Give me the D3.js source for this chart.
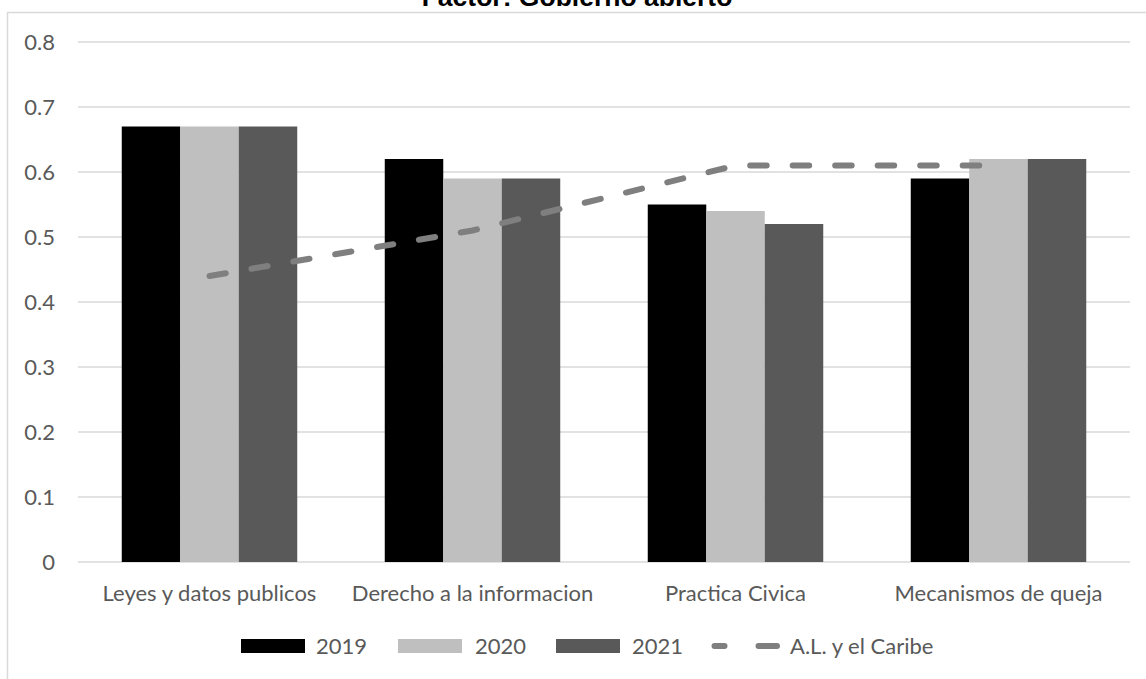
<!DOCTYPE html>
<html>
<head>
<meta charset="utf-8">
<script src="https://cdn.jsdelivr.net/npm/d3@7"></script>
<style>
  html, body { margin: 0; padding: 0; background: #ffffff; }
  svg { display: block; }
</style>
</head>
<body>
<svg id="chart" width="1146" height="679"></svg>
<script>
// Factor: Gobierno abierto — scores by sub-factor and year, with the regional average
const categories = ["Leyes y datos publicos", "Derecho a la informacion", "Practica Civica", "Mecanismos de queja"];
const years = ["2019", "2020", "2021"];
const values2019 = [0.67, 0.62, 0.55, 0.59];
const values2020 = [0.67, 0.59, 0.54, 0.62];
const values2021 = [0.67, 0.59, 0.52, 0.62];
const regionalValues = [0.44, 0.51, 0.61, 0.61];
const regionalLabel = "A.L. y el Caribe";
const yTickValues = [0, 0.1, 0.2, 0.3, 0.4, 0.5, 0.6, 0.7, 0.8];
const yTickLabels = ["0", "0.1", "0.2", "0.3", "0.4", "0.5", "0.6", "0.7", "0.8"];
const titleText = "Factor: Gobierno abierto";

const seriesValues = [values2019, values2020, values2021];
const seriesColors = ["#000000", "#bfbfbf", "#595959"];
const textColor = "#595959";
const labelFont = "Lato, 'Open Sans', sans-serif";

const svg = d3.select("#chart");

// outer chart frame
svg.append("rect")
  .attr("x", 7.5).attr("y", 12.5)
  .attr("width", 1200).attr("height", 700)
  .attr("fill", "none")
  .attr("stroke", "#d9d9d9")
  .attr("stroke-width", 1.5);

// title
svg.append("text")
  .attr("x", 577).attr("y", 6)
  .attr("text-anchor", "middle")
  .attr("font-family", "'Liberation Sans', Arial, sans-serif")
  .attr("font-weight", "bold")
  .attr("font-size", 26.5)
  .attr("fill", "#000000")
  .text(titleText);

const plotLeft = 78, plotRight = 1130, plotTop = 42, plotBottom = 562;

const x0 = d3.scaleBand().domain(categories).range([plotLeft, plotRight]).padding(0);
const x1 = d3.scaleBand().domain(years).range([0, x0.bandwidth()]).paddingInner(0).paddingOuter(0.748);
const y = d3.scaleLinear().domain([0, 0.8]).range([plotBottom, plotTop]);

// horizontal gridlines
svg.append("g")
  .selectAll("line")
  .data(yTickValues)
  .join("line")
  .attr("x1", plotLeft).attr("x2", plotRight)
  .attr("y1", d => y(d)).attr("y2", d => y(d))
  .attr("stroke", "#d9d9d9")
  .attr("stroke-width", 1.5);

// y tick labels
svg.append("g")
  .selectAll("text")
  .data(yTickValues)
  .join("text")
  .attr("x", 55)
  .attr("y", d => y(d))
  .attr("dy", "0.36em")
  .attr("text-anchor", "end")
  .attr("font-family", labelFont)
  .attr("font-size", 22)
  .attr("fill", textColor)
  .text((d, i) => yTickLabels[i]);

// grouped bars
const groups = svg.append("g")
  .selectAll("g")
  .data(categories)
  .join("g")
  .attr("transform", d => `translate(${x0(d)},0)`);

groups.selectAll("rect")
  .data((c, ci) => years.map((yr, si) => ({ yr, si, v: seriesValues[si][ci] })))
  .join("rect")
  .attr("x", d => x1(d.yr))
  .attr("width", x1.bandwidth())
  .attr("y", d => y(d.v))
  .attr("height", d => y(0) - y(d.v))
  .attr("fill", d => seriesColors[d.si]);

// category labels
svg.append("g")
  .selectAll("text")
  .data(categories)
  .join("text")
  .attr("x", d => x0(d) + x0.bandwidth() / 2)
  .attr("y", 601)
  .attr("text-anchor", "middle")
  .attr("font-family", labelFont)
  .attr("font-size", 22)
  .attr("fill", textColor)
  .text(d => d);

// regional average line
const line = d3.line()
  .x((d, i) => x0(categories[i]) + x0.bandwidth() / 2)
  .y(d => y(d));

svg.append("path")
  .datum(regionalValues)
  .attr("d", line)
  .attr("fill", "none")
  .attr("stroke", "#7f7f7f")
  .attr("stroke-width", 6)
  .attr("stroke-linecap", "round")
  .attr("stroke-dasharray", "16.5,26");

// legend
const legend = svg.append("g");
const swatchX = [241, 398, 556];
const legendTextX = [316, 475, 632];
years.forEach((yr, i) => {
  legend.append("rect")
    .attr("x", swatchX[i]).attr("y", 639)
    .attr("width", 64).attr("height", 14)
    .attr("fill", seriesColors[i]);
  legend.append("text")
    .attr("x", legendTextX[i]).attr("y", 654)
    .attr("font-family", labelFont)
    .attr("font-size", 22)
    .attr("fill", textColor)
    .text(yr);
});
legend.append("line")
  .attr("x1", 714.5).attr("x2", 777)
  .attr("y1", 646).attr("y2", 646)
  .attr("stroke", "#7f7f7f")
  .attr("stroke-width", 6)
  .attr("stroke-linecap", "round")
  .attr("stroke-dasharray", "10,34,18.5,100");
legend.append("text")
  .attr("x", 790).attr("y", 654)
  .attr("font-family", labelFont)
  .attr("font-size", 22)
  .attr("fill", textColor)
  .text(regionalLabel);
</script>
</body>
</html>
